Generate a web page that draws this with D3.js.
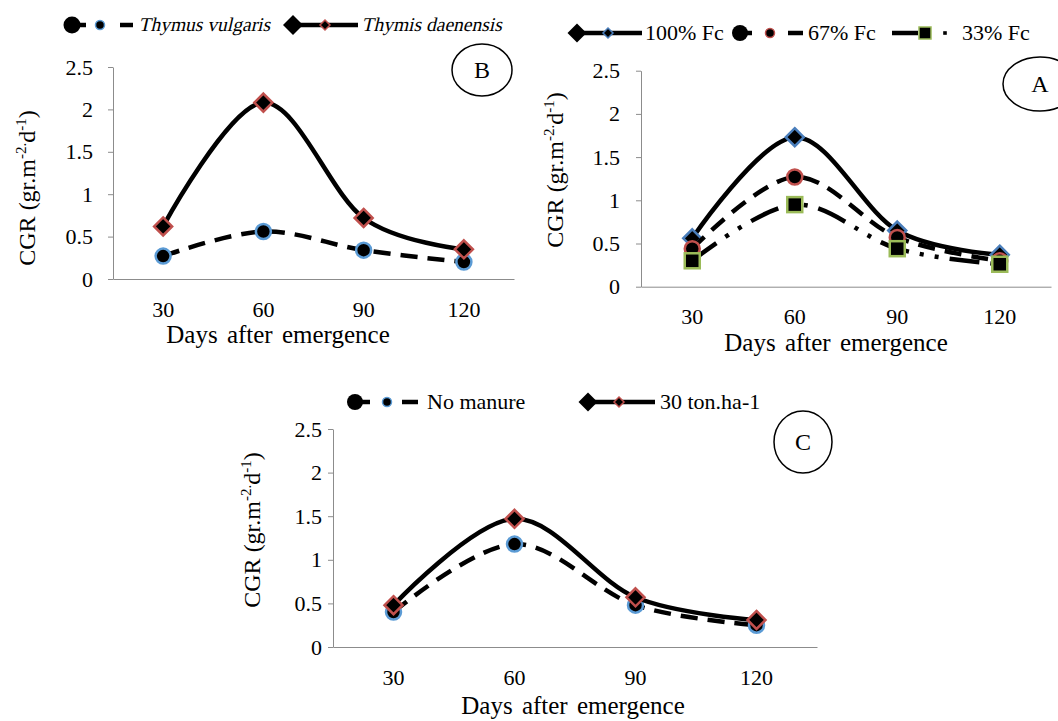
<!DOCTYPE html>
<html>
<head>
<meta charset="utf-8">
<script src="https://cdn.jsdelivr.net/npm/d3@7"></script>
<style>
	body { margin: 0; background: #fff; }
</style>
</head>
<body>
<div id="chart"></div>
<script>

// days after emergence (categories) and y ticks
const days = [30, 60, 90, 120];
const yTicks = [0, 0.5, 1, 1.5, 2, 2.5];

// panel B - species
const vulgaris = [0.27, 0.56, 0.34, 0.20];
const daenensis = [0.62, 2.08, 0.72, 0.35];
const legendB = ["Thymus vulgaris", "Thymis daenensis"];

// panel A - field capacity
const fc100 = [0.56, 1.73, 0.65, 0.37];
const fc67 = [0.44, 1.27, 0.57, 0.30];
const fc33 = [0.30, 0.95, 0.44, 0.26];
const legendA = ["100% Fc", "67% Fc", "33% Fc"];

// panel C - manure
const noManure = [0.40, 1.18, 0.48, 0.25];
const ton30 = [0.48, 1.47, 0.57, 0.31];
const legendC = ["No manure", "30 ton.ha-1"];

const FONT = "'Liberation Serif', 'Times New Roman', serif";
const blue = "#5b9bd5", red = "#c0504d", green = "#9bbb59", axisGrey = "#8c8c8c";
const DASH = "17,10", DASHDOT = "30,11,4,11,4,11";

let svg = d3.select("#chart").append("svg")
	.attr("width", 1058)
	.attr("height", 721)
	.style("display", "block")
	.style("font-family", FONT);

let curve = d3.curveCardinal.tension(0);

function drawMarker(g, type, x, y, r, fill, edge, sw) {
	if (type == "circle") {
		g.append("circle").attr("cx", x).attr("cy", y).attr("r", r)
			.attr("fill", fill).attr("stroke", edge).attr("stroke-width", sw);
	} else if (type == "diamond") {
		g.append("path")
			.attr("d", `M${x},${y - r}L${x + r},${y}L${x},${y + r}L${x - r},${y}Z`)
			.attr("fill", fill).attr("stroke", edge).attr("stroke-width", sw);
	} else {
		g.append("rect").attr("x", x - r).attr("y", y - r).attr("width", 2 * r).attr("height", 2 * r)
			.attr("fill", fill).attr("stroke", edge).attr("stroke-width", sw);
	}
}

function drawPanel(p) {
	let g = svg.append("g");

	let x = d3.scaleBand().domain(days).range([p.left, p.right]);
	let y = d3.scaleLinear().domain([0, 2.5]).range([p.bottom, p.top]);

	// y axis
	let yAxis = g.append("g")
		.attr("transform", `translate(${p.left},0)`)
		.call(d3.axisLeft(y).tickValues(yTicks).tickFormat(d3.format("")).tickSize(5).tickSizeOuter(0).tickPadding(p.tickPad));
	yAxis.selectAll("path, line").attr("stroke", axisGrey);
	yAxis.selectAll("text").style("font-size", "22px").style("font-family", FONT).attr("fill", "#000");

	// x axis
	let xAxis = g.append("g")
		.attr("transform", `translate(0,${p.bottom})`)
		.call(d3.axisBottom(x).tickSize(0).tickSizeOuter(0).tickPadding(22));
	xAxis.selectAll("path").attr("stroke", axisGrey);
	xAxis.selectAll("text").style("font-size", "22px").style("font-family", FONT).attr("fill", "#000");

	// titles
	g.append("text")
		.attr("x", p.xTitle[0]).attr("y", p.xTitle[1])
		.attr("text-anchor", "middle")
		.style("font-size", "25px")
		.style("word-spacing", "3px")
		.text("Days after emergence");

	let yt = g.append("text")
		.attr("transform", `translate(${p.yTitle[0]},${p.yTitle[1]}) rotate(-90)`)
		.attr("text-anchor", "middle")
		.attr("dy", "0.35em")
		.style("font-size", "24px");
	yt.append("tspan").text("CGR (gr.m");
	yt.append("tspan").attr("dy", -9).style("font-size", "15px").text("-2.");
	yt.append("tspan").attr("dy", 9).text("d");
	yt.append("tspan").attr("dy", -9).style("font-size", "15px").text("-1");
	yt.append("tspan").attr("dy", 9).text(")");

	// series
	p.series.forEach(s => {
		let line = d3.line()
			.x((d, i) => x(days[i]) + x.bandwidth() / 2)
			.y(d => y(d))
			.curve(curve);

		g.append("path")
			.datum(s.values)
			.attr("d", line)
			.attr("fill", "none")
			.attr("stroke", "#000")
			.attr("stroke-width", 4.5)
			.attr("stroke-dasharray", s.dash);

		s.values.forEach((v, i) => {
			drawMarker(g, s.marker, x(days[i]) + x.bandwidth() / 2, y(v), s.marker == "diamond" ? 9 : 7.5, "#000", s.edge, 2.5);
		});
	});

	// panel letter
	g.append("ellipse")
		.attr("cx", p.oval[0]).attr("cy", p.oval[1])
		.attr("rx", p.oval[2]).attr("ry", p.oval[3])
		.attr("fill", "none").attr("stroke", "#000").attr("stroke-width", 1.5);
	g.append("text")
		.attr("x", p.oval[0]).attr("y", p.oval[1])
		.attr("dy", "0.35em")
		.attr("text-anchor", "middle")
		.style("font-size", "24px")
		.text(p.name);
}

// legend pieces
function legendStub(x1, x2, y, dash) {
	svg.append("line")
		.attr("x1", x1).attr("x2", x2).attr("y1", y).attr("y2", y)
		.attr("stroke", "#000").attr("stroke-width", 4.5)
		.attr("stroke-dasharray", dash);
}
function legendText(x, y, txt, size, italic) {
	let t = svg.append("text")
		.attr("x", italic ? 0 : x).attr("y", italic ? 0 : y)
		.attr("dy", "0.32em")
		.style("font-size", size + "px")
		.text(txt);
	// slanted serif for the species names
	if (italic) t.attr("transform", `translate(${x},${y}) skewX(-13)`);
}

drawPanel({
	name: "B", left: 113, right: 514, top: 67, bottom: 279, tickPad: 15,
	xTitle: [278, 343], yTitle: [27, 188], oval: [482, 70, 30, 26],
	series: [
		{ values: vulgaris, dash: DASH, marker: "circle", edge: blue },
		{ values: daenensis, dash: null, marker: "diamond", edge: red }
	]
});

drawPanel({
	name: "A", left: 641, right: 1051, top: 70.7, bottom: 286.7, tickPad: 16,
	xTitle: [836, 351], yTitle: [555, 170], oval: [1040, 84, 37, 27],
	series: [
		{ values: fc100, dash: null, marker: "diamond", edge: "#4a7ebb" },
		{ values: fc67, dash: DASH, marker: "circle", edge: red },
		{ values: fc33, dash: DASHDOT, marker: "square", edge: green }
	]
});

drawPanel({
	name: "C", left: 333, right: 817, top: 429, bottom: 647, tickPad: 6,
	xTitle: [573, 714], yTitle: [252, 530], oval: [803, 442, 29, 31],
	series: [
		{ values: noManure, dash: DASH, marker: "circle", edge: blue },
		{ values: ton30, dash: null, marker: "diamond", edge: red }
	]
});

// legend B
legendStub(72, 86, 25, null);
drawMarker(svg, "circle", 72, 25, 8.5, "#000", "none", 0);
drawMarker(svg, "circle", 100, 25, 4.5, "#000", blue, 1.5);
legendStub(120, 133, 25, null);
legendText(140, 25, legendB[0], 19.5, true);
legendStub(293, 358, 25, null);
drawMarker(svg, "diamond", 293, 25, 10, "#000", "none", 0);
drawMarker(svg, "diamond", 325, 25, 5, "#000", red, 1.5);
legendText(363, 25, legendB[1], 19.5, true);

// legend A
legendStub(577, 642, 33, null);
drawMarker(svg, "diamond", 577, 33, 9.5, "#000", "none", 0);
drawMarker(svg, "diamond", 608, 33, 5, "#000", "#4a7ebb", 1.5);
legendText(645, 33, legendA[0], 22, false);
legendStub(740, 752, 33, null);
drawMarker(svg, "circle", 740, 33, 8, "#000", "none", 0);
drawMarker(svg, "circle", 770, 33, 4.5, "#000", red, 1.5);
legendStub(788, 803, 33, null);
legendText(808, 33, legendA[1], 22, false);
legendStub(892, 918, 33, null);
drawMarker(svg, "square", 925, 33, 6, "#000", green, 1.5);
drawMarker(svg, "square", 945, 33, 1.8, "#000", "none", 0);
legendText(962, 33, legendA[2], 22, false);

// legend C
legendStub(355, 370, 402, null);
drawMarker(svg, "circle", 355, 402, 8, "#000", "none", 0);
drawMarker(svg, "circle", 387, 402, 4.5, "#000", blue, 1.5);
legendStub(402, 418, 402, null);
legendText(427, 402, legendC[0], 22, false);
legendStub(588, 655, 402, null);
drawMarker(svg, "diamond", 588, 402, 9.5, "#000", "none", 0);
drawMarker(svg, "diamond", 619, 402, 5, "#000", red, 1.5);
legendText(660, 402, legendC[1], 22, false);

</script>
</body>
</html>
